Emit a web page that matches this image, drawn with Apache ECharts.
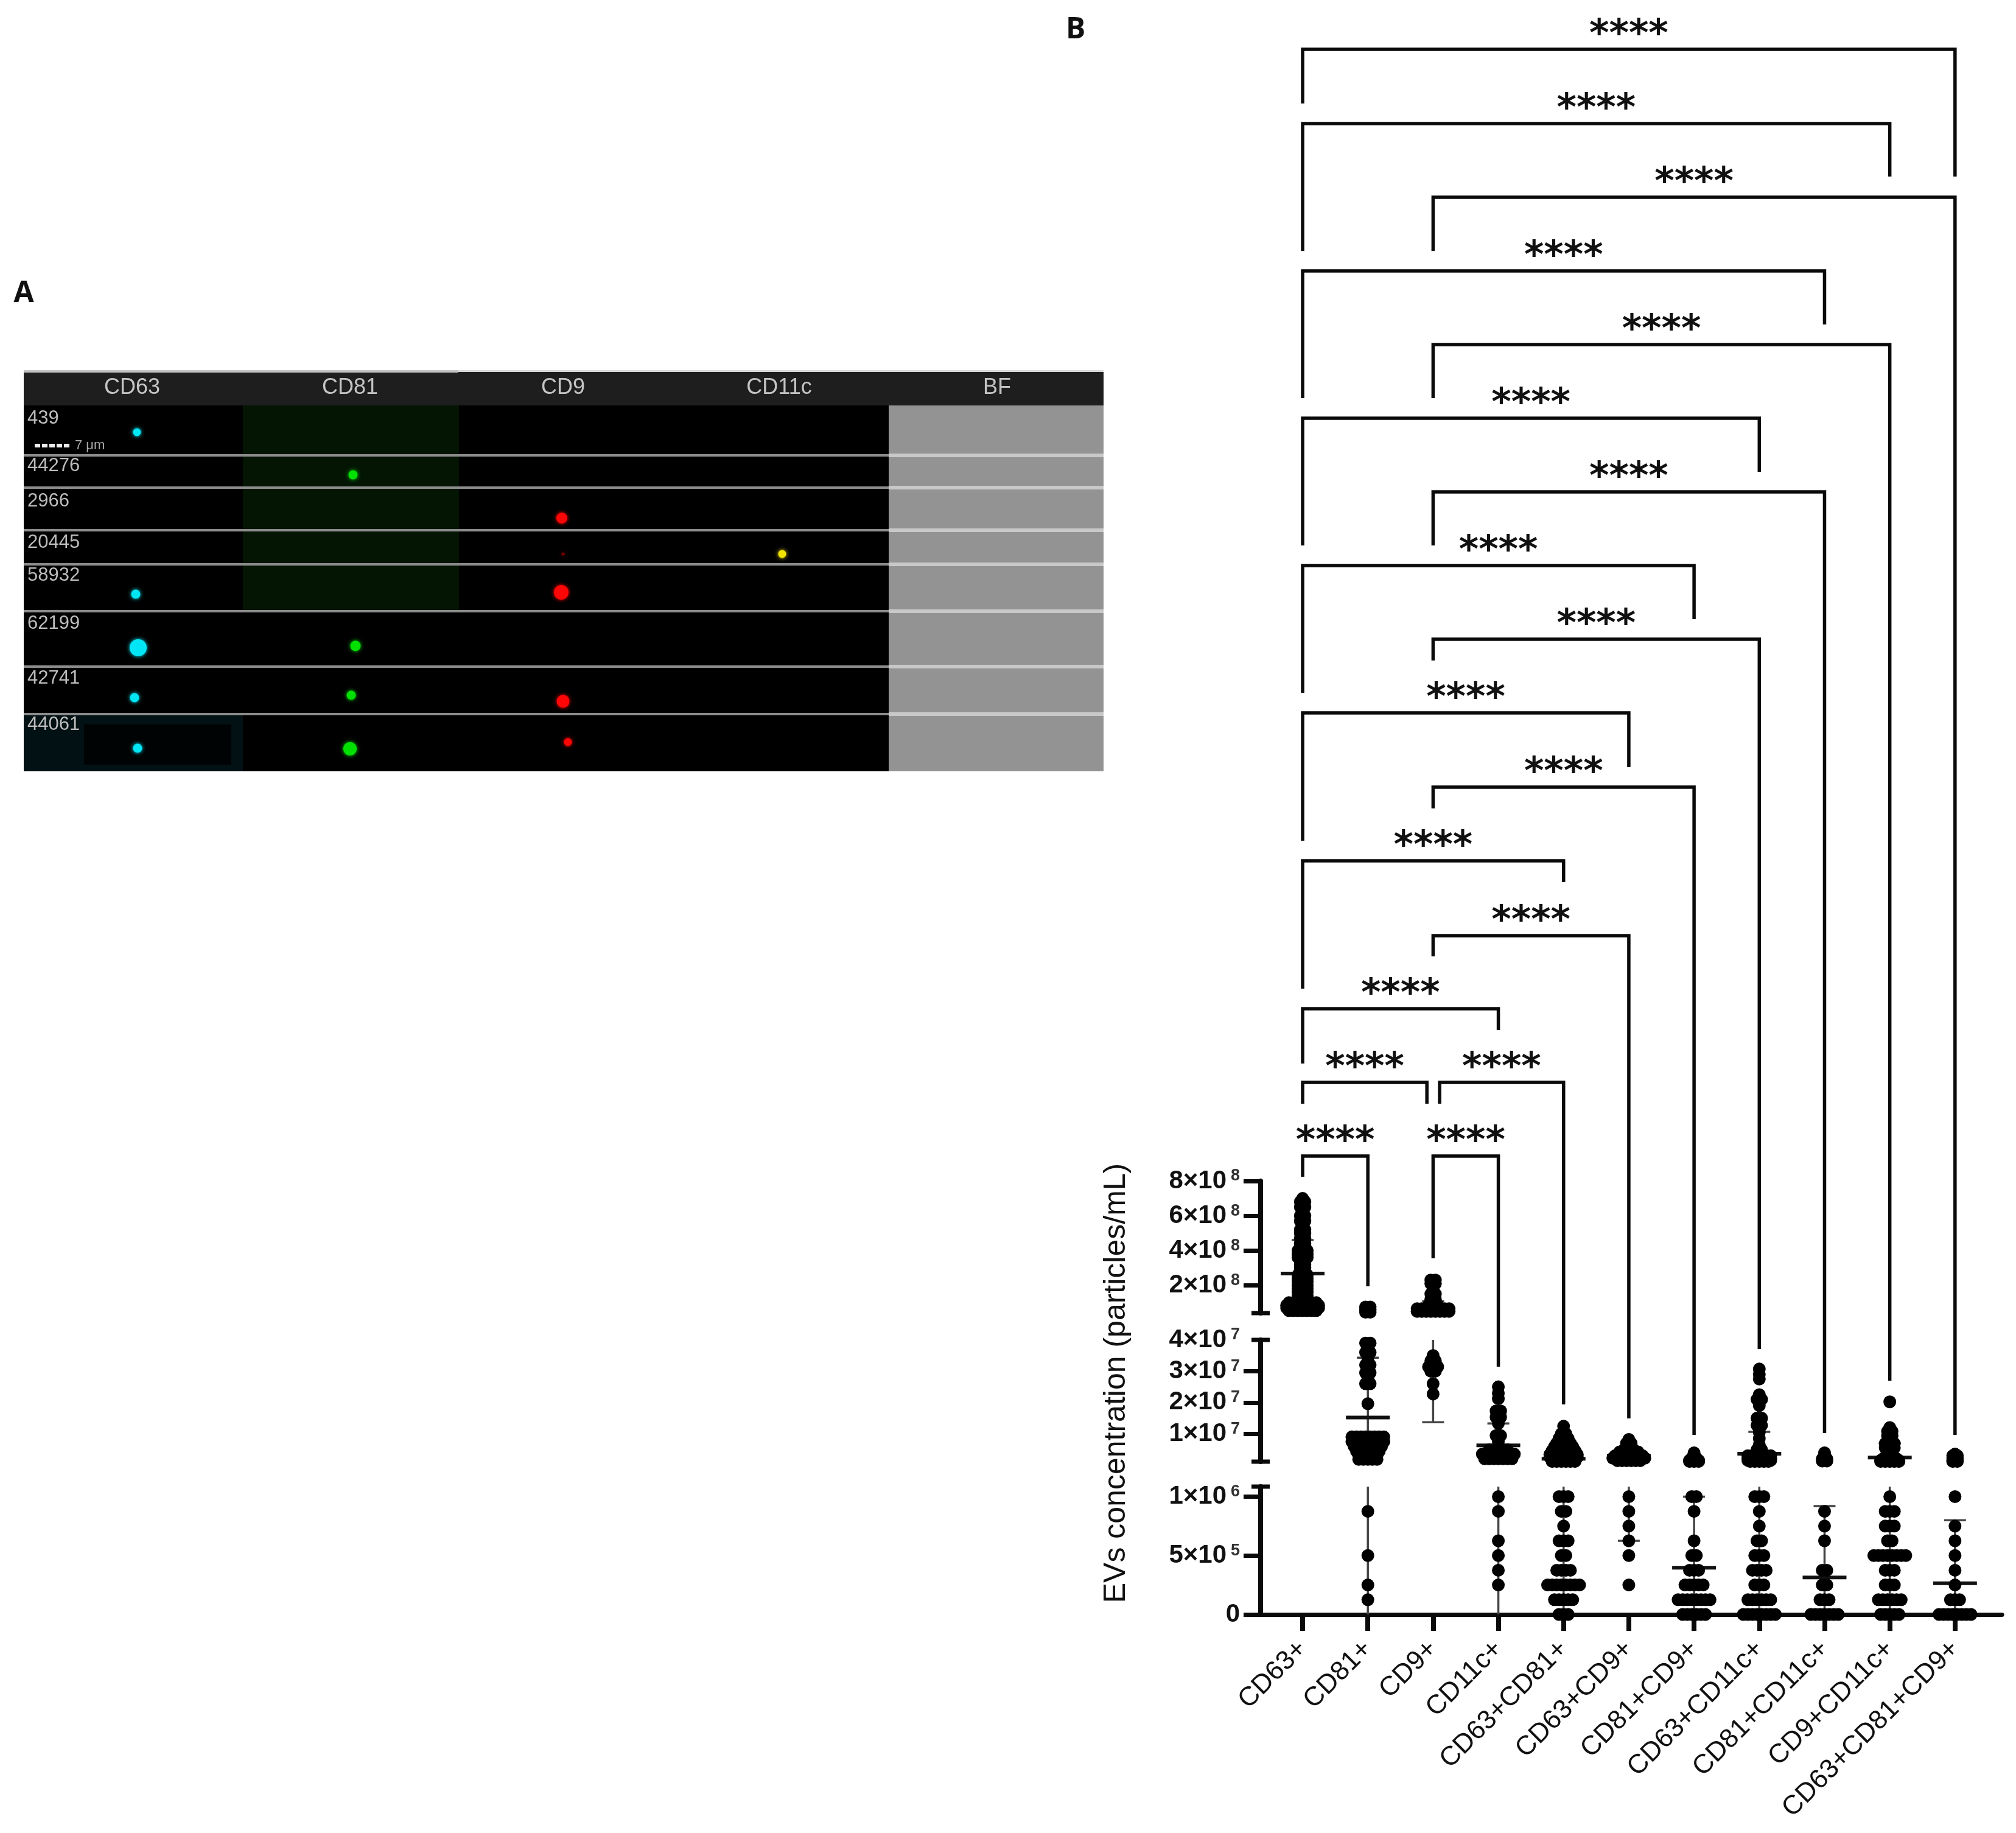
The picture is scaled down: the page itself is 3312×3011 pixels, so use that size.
<!DOCTYPE html>
<html>
<head>
<meta charset="utf-8">
<style>html,body{margin:0;padding:0;background:#fff}#chart{width:3312px;height:3011px}</style>
<script src="https://cdn.jsdelivr.net/npm/echarts@6/dist/echarts.min.js"></script>
</head>
<body>
<div id="chart"></div>
<script>
// ---------- Panel B data ----------
const categories = ['CD63+','CD81+','CD9+','CD11c+','CD63+CD81+','CD63+CD9+','CD81+CD9+','CD63+CD11c+','CD81+CD11c+','CD9+CD11c+','CD63+CD81+CD9+'];
// each row: [value, how many dots sit side by side at that value]
const dotsCD63 = [[7.0e8,1],[6.8e8,2],[6.5e8,2],[6.2e8,1],[6.0e8,2],[5.7e8,2],[5.5e8,1],[5.2e8,2],[5.0e8,2],[4.7e8,2],[4.4e8,2],[4.2e8,2],[4.0e8,3],[3.8e8,3],[3.6e8,3],[3.4e8,2],[3.2e8,2],[3.0e8,2],[2.8e8,2],[2.6e8,3],[2.4e8,3],[2.2e8,3],[2.0e8,3],[1.8e8,3],[1.6e8,3],[1.4e8,3],[1.2e8,3],[1.0e8,7],[0.85e8,8],[0.7e8,8],[0.55e8,7]];
const dotsCD81 = [[0.75e8,2],[0.6e8,2],[0.45e8,2],[3.9e7,2],[3.6e7,2],[3.4e7,1],[3.2e7,2],[2.95e7,2],[2.75e7,1],[2.6e7,2],[1.96e7,1],[0.9e7,8],[0.75e7,8],[0.6e7,7],[0.45e7,6],[0.3e7,5],[0.18e7,5],[8.75e5,1],[5e5,1],[2.5e5,1],[1.25e5,1]];
const dotsCD9 = [[2.3e8,2],[2.1e8,2],[1.8e8,1],[1.5e8,2],[1.2e8,2],[0.85e8,3],[0.65e8,8],[0.5e8,8],[3.5e7,1],[3.33e7,2],[3.14e7,3],[3.0e7,2],[2.6e7,1],[2.27e7,1]];
const dotsCD11c = [[2.5e7,1],[2.3e7,1],[2.12e7,1],[1.73e7,2],[1.53e7,2],[1.33e7,1],[0.94e7,2],[0.75e7,1],[0.49e7,5],[0.35e7,8],[0.2e7,7],[1e6,1],[8.75e5,1],[6.25e5,1],[5e5,1],[3.75e5,1],[2.5e5,1]];
const dotsCD63CD81 = [[1.24e7,1],[1.0e7,2],[0.85e7,3],[0.7e7,4],[0.58e7,5],[0.46e7,6],[0.34e7,7],[0.25e7,7],[0.17e7,6],[0.115e7,6],[1e6,3],[8.75e5,2],[7.5e5,1],[6.25e5,3],[5e5,2],[3.75e5,4],[2.5e5,8],[1.25e5,5],[0,3]];
const dotsCD63CD9 = [[0.82e7,1],[0.7e7,2],[0.6e7,2],[0.5e7,3],[0.42e7,5],[0.3e7,7],[0.22e7,8],[0.14e7,6],[1e6,1],[8.75e5,1],[7.5e5,1],[6.25e5,1],[5e5,1],[2.5e5,1]];
const dotsCD81CD9 = [[0.39e7,1],[0.3e7,1],[0.22e7,2],[0.15e7,3],[0.115e7,3],[1e6,2],[8.75e5,1],[6.25e5,1],[5e5,2],[3.75e5,3],[2.5e5,5],[1.25e5,8],[0,6]];
const dotsCD63CD11c = [[3.07e7,1],[2.9e7,1],[2.75e7,1],[2.25e7,1],[2.1e7,2],[1.9e7,1],[1.5e7,2],[1.27e7,2],[1.05e7,1],[0.85e7,1],[0.65e7,1],[0.49e7,2],[0.3e7,6],[0.22e7,6],[0.15e7,6],[0.115e7,5],[1e6,3],[8.75e5,1],[7.5e5,1],[6.25e5,2],[5e5,3],[3.75e5,4],[2.5e5,3],[1.25e5,6],[0,8]];
const dotsCD81CD11c = [[0.39e7,1],[0.3e7,1],[0.2e7,2],[0.13e7,2],[8.75e5,1],[7.5e5,1],[6.25e5,1],[3.75e5,2],[2.5e5,2],[1.25e5,3],[0,7]];
const dotsCD9CD11c = [[2.02e7,1],[1.2e7,1],[1.08e7,2],[0.94e7,2],[0.69e7,3],[0.55e7,3],[0.43e7,2],[0.2e7,4],[0.15e7,5],[0.115e7,5],[1e6,1],[8.75e5,3],[7.5e5,3],[6.25e5,2],[5e5,8],[3.75e5,3],[2.5e5,3],[1.25e5,6],[0,5]];
const dotsTriple = [[0.35e7,1],[0.3e7,2],[0.22e7,2],[0.15e7,2],[0.115e7,2],[1e6,1],[7.5e5,1],[6.25e5,1],[5e5,1],[3.75e5,1],[2.5e5,1],[1.25e5,3],[0,8]];
const allDots = [dotsCD63,dotsCD81,dotsCD9,dotsCD11c,dotsCD63CD81,dotsCD63CD9,dotsCD81CD9,dotsCD63CD11c,dotsCD81CD11c,dotsCD9CD11c,dotsTriple];
const means  = [2.68e8,1.52e7,6e7,6.3e6,2.0e6,3.0e6,3.97e5,3.6e6,3.14e5,2.4e6,2.65e5];
const uppers = [4.6e8,3.43e7,1.08e8,1.33e7,5.3e6,5.5e6,1e6,1.06e7,9.2e5,7e6,8e5];
const lowers = [7.5e7,0,1.37e7,0,0,6.25e5,0,0,0,0,0];
// y-axis segments of the broken axis
const segMin = [4e7,1.09e6,0];
const segMax = [8e8,4e7,1.085e6];
const segTicks = [[2e8,4e8,6e8,8e8],[1e7,2e7,3e7],[0,5e5,1e6]];
const segLabels = [[2e8,4e8,6e8,8e8],[1e7,2e7,3e7,4e7],[0,5e5,1e6]];
const segCaps = [[4e7],[1.09e6,4e7],[1.085e6]];
// significance brackets: [from category, to category, bar height, left foot, right foot] (heights on the page scale of 0..3011)
const brackets = [
 [0,10,81,170,290],[0,9,203,412,290],[2,10,324,412,2357],[0,8,445,654,533],[2,9,566,654,2268],
 [0,7,687,896,775],[2,8,808,896,2354],[0,6,929,1138,1017],[2,7,1050,1085,2216],[0,5,1171,1381,1260],
 [2,6,1293,1328,2357],[0,4,1414,1624,1449],[2,5,1537,1571,2330],[0,3,1657,1747,1692],
 [0,1.905,1778,1813,1813],[2.1,4,1778,1813,2307],[0,1,1899,1933,2113],[2,3,1899,2067,2245]
];
const starText = '****';
// ---------- Panel A data ----------
const imgColumns = ['CD63','CD81','CD9','CD11c','BF'];
const imgColumnCentres = [178,536,886,1241,1599];
const eventIds = ['439','44276','2966','20445','58932','62199','42741','44061'];
const eventIdY = [77,155,213,281,335,414,504,580];
const rowLines = [138,191,261,317,394,485,563];
// spots: [x in panel, y in panel, diameter]
const spotsCD63 = [[186,100,13],[184,366,15],[188,454,28],[182,536,15],[187,619,15]];
const spotsCD81 = [[541,170,15],[545,451,17],[538,532,15],[536,620,22]];
const spotsCD9 = [[884,241,18],[883,363,24],[886,542,21],[894,609,13]];
const spotsCD9Faint = [[886,300,5]];
const spotsCD11c = [[1246,300,13]];

// ---------- layout ----------
const X0 = 2071, XW = 1218, xMin = -0.644, xMax = 10.72;
const segTop = [1940,2201,2442], segBottom = [2157,2401,2652];
const dodge = 0.07;
const INK = '#0a0a0a', FONT = '"Liberation Sans", Arial, sans-serif';

function rowsToPoints(i, rows){
  const pts = [];
  rows.forEach(([v,n]) => { for(let k=0;k<n;k++) pts.push([i + (k-(n-1)/2)*dodge, v]); });
  return pts;
}
function segOf(v){ return v>segMax[1] ? 0 : (v>segMax[2] ? 1 : 2); }
const segPoints = [[],[],[]];
allDots.forEach((rows,i)=>rowsToPoints(i,rows).forEach(p=>segPoints[segOf(p[1])].push(p)));

function lineEl(a,b,w,color){
  return {type:'line',shape:{x1:a[0],y1:a[1],x2:b[0],y2:b[1]},style:{stroke:color,lineWidth:w},silent:true};
}
function statRender(k){
  return function(params,api){
    const i=api.value(0), mean=api.value(1), up=api.value(2), lo=api.value(3);
    const kids=[];
    const a=Math.max(lo,segMin[k]), b=Math.min(up,segMax[k]);
    if(a<b){ kids.push(lineEl(api.coord([i,a]),api.coord([i,b]),3.5,'#444')); }
    [up,lo].forEach(v=>{ if(v>0 && v>=segMin[k] && v<=segMax[k]){
      const p=api.coord([i,v]); kids.push(lineEl([p[0]-18,p[1]],[p[0]+18,p[1]],3.5,'#444')); }});
    if(mean>=segMin[k] && mean<=segMax[k]){
      const p=api.coord([i,mean]); kids.push(lineEl([p[0]-36,p[1]],[p[0]+36,p[1]],6,'#111')); }
    return {type:'group',children:kids};
  };
}
function capRender(params,api){
  const p=api.coord([api.value(0),api.value(1)]);
  return lineEl([p[0]-15,p[1]],[p[0]+15,p[1]],7,INK);
}
function fmtY(v){
  if(v===0) return '{b|0}';
  const e=Math.floor(Math.log10(v)+1e-9);
  const m=Math.round(v/Math.pow(10,e));
  return '{b|'+m+'×10}{s|'+e+'}';
}
const grids=[], xAxes=[], yAxes=[], series=[];
for(let k=0;k<3;k++){
  grids.push({left:X0,width:XW,top:segTop[k],height:segBottom[k]-segTop[k],containLabel:false});
  const isBottom=k===2;
  xAxes.push({gridIndex:k,type:'value',min:xMin,max:xMax,show:isBottom,splitLine:{show:false},
    axisLine:{show:true,onZero:false,lineStyle:{color:INK,width:7}},
    axisTick:{show:true,length:27,customValues:categories.map((c,i)=>i),lineStyle:{color:INK,width:8}},
    axisLabel:{show:true,customValues:categories.map((c,i)=>i),rotate:45,margin:50,fontFamily:FONT,fontSize:44,color:'#111',
      formatter:v=>categories[Math.round(v)]||''}});
  yAxes.push({gridIndex:k,type:'value',min:segMin[k],max:segMax[k],splitLine:{show:false},
    axisLine:{show:true,onZero:false,lineStyle:{color:INK,width:8}},
    axisTick:{show:true,length:28,customValues:segTicks[k],lineStyle:{color:INK,width:7}},
    axisLabel:{show:true,customValues:segLabels[k],margin:34,formatter:fmtY,
      rich:{b:{fontFamily:FONT,fontWeight:'bold',fontSize:42,color:'#111'},
            s:{fontFamily:FONT,fontWeight:'bold',fontSize:27,color:'#333',padding:[0,0,16,7]}}}});
  series.push({type:'custom',xAxisIndex:k,yAxisIndex:k,clip:false,silent:true,z:2,renderItem:statRender(k),
    encode:{x:0,y:1},data:categories.map((c,i)=>[i,means[i],uppers[i],lowers[i]])});
  series.push({type:'scatter',xAxisIndex:k,yAxisIndex:k,clip:false,silent:true,z:3,symbol:'circle',symbolSize:21,
    itemStyle:{color:'#000',opacity:1},data:segPoints[k]});
  series.push({type:'custom',xAxisIndex:k,yAxisIndex:k,clip:false,silent:true,z:4,renderItem:capRender,
    encode:{x:0,y:1},data:segCaps[k].map(v=>[xMin,v])});
}
// bracket layer
grids.push({left:X0,width:XW,top:0,height:3011});
xAxes.push({gridIndex:3,type:'value',min:xMin,max:xMax,show:false});
yAxes.push({gridIndex:3,type:'value',min:0,max:3011,inverse:true,show:false});
series.push({type:'custom',xAxisIndex:3,yAxisIndex:3,clip:false,silent:true,z:1,encode:{x:0,y:2},data:brackets,
  renderItem(params,api){
    const f=api.value(0),t=api.value(1),y=api.value(2),l=api.value(3),r=api.value(4);
    const pts=[api.coord([f,l]),api.coord([f,y]),api.coord([t,y]),api.coord([t,r])];
    const mid=api.coord([(f+t)/2,y]);
    return {type:'group',children:[
      {type:'polyline',shape:{points:pts},style:{stroke:'#0a0a0a',lineWidth:5.5,fill:null,lineJoin:'miter'}},
      {type:'text',style:{text:starText,x:mid[0],y:mid[1]-22,textAlign:'center',textVerticalAlign:'middle',
        font:'bold 62px "DejaVu Sans"',fill:'#111'}}
    ]};
  }});
// panel A layer
grids.push({left:39,width:1774,top:610,height:657});
xAxes.push({gridIndex:4,type:'value',min:0,max:1774,show:false});
yAxes.push({gridIndex:4,type:'value',min:0,max:657,inverse:true,show:false});
function rectEl(api,x0,y0,x1,y1,fill){
  const a=api.coord([x0,y0]),b=api.coord([x1,y1]);
  return {type:'rect',shape:{x:a[0],y:a[1],width:b[0]-a[0],height:b[1]-a[1]},style:{fill}};
}
series.push({type:'custom',xAxisIndex:4,yAxisIndex:4,clip:false,silent:true,z:1,encode:{x:0,y:1},data:[[0,0]],
  renderItem(params,api){
    const kids=[
      rectEl(api,0,0,1774,657,'#000'),
      rectEl(api,0,0,1774,56,'#1e1e1e'),
      rectEl(api,0,-2,714,2,'#c4c4c4'),
      rectEl(api,714,-2,1774,1,'#d8d8d8'),
      rectEl(api,360,56,715,394,'#041504'),
      rectEl(api,0,563,360,657,'#021114'),
      rectEl(api,99,580,341,646,'#000304'),
      rectEl(api,1421,56,1774,657,'#939393')
    ];
    rowLines.forEach(y=>{
      kids.push(rectEl(api,0,y-2,1421,y+2,'#8c8c8c'));
      kids.push(rectEl(api,1421,y-3,1774,y+3,'#c8c8c8'));
    });
    imgColumns.forEach((c,i)=>{
      const p=api.coord([imgColumnCentres[i],27]);
      kids.push({type:'text',style:{text:c,x:p[0],y:p[1],textAlign:'center',textVerticalAlign:'middle',font:'36px '+FONT,fill:'#c4c4c4'}});
    });
    eventIds.forEach((t,i)=>{
      const p=api.coord([6,eventIdY[i]]);
      kids.push({type:'text',style:{text:t,x:p[0],y:p[1],textAlign:'left',textVerticalAlign:'middle',font:'31px '+FONT,fill:'#bdbdbd'}});
    });
    const s0=api.coord([18,122]),s1=api.coord([78,122]);
    kids.push({type:'line',shape:{x1:s0[0],y1:s0[1],x2:s1[0],y2:s1[1]},style:{stroke:'#eee',lineWidth:6,lineDash:[9,3]}});
    const t=api.coord([84,122]);
    kids.push({type:'text',style:{text:'7 μm',x:t[0],y:t[1],textAlign:'left',textVerticalAlign:'middle',font:'22px '+FONT,fill:'#aaa'}});
    return {type:'group',children:kids};
  }});
[[spotsCD63,'#00e6f5'],[spotsCD81,'#00e000'],[spotsCD9,'#ff0505'],[spotsCD9Faint,'#7a0000'],[spotsCD11c,'#f2e400']].forEach(([d,c])=>{
  series.push({type:'scatter',xAxisIndex:4,yAxisIndex:4,silent:true,z:5,symbol:'circle',clip:false,
    symbolSize:v=>v[2],itemStyle:{color:c,opacity:1,shadowBlur:6,shadowColor:c},data:d});
});

const chart=echarts.init(document.getElementById('chart'),null,{width:3312,height:3011,devicePixelRatio:1});
chart.setOption({
  animation:false,backgroundColor:'#ffffff',
  grid:grids,xAxis:xAxes,yAxis:yAxes,series,
  graphic:[
    {type:'text',x:1834,y:2272,rotation:Math.PI/2,silent:true,style:{text:'EVs concentration (particles/mL)',x:0,y:0,align:'center',verticalAlign:'middle',font:'50px '+FONT,fill:'#111'}},
    {type:'text',x:39,y:482,silent:true,style:{text:'A',x:0,y:0,align:'center',verticalAlign:'middle',font:'bold 48px "Open Sans"',fill:'#111'}},
    {type:'text',x:1767,y:49,silent:true,style:{text:'B',x:0,y:0,align:'center',verticalAlign:'middle',font:'bold 48px "Open Sans"',fill:'#111'}}
  ]
});
</script>
</body>
</html>
